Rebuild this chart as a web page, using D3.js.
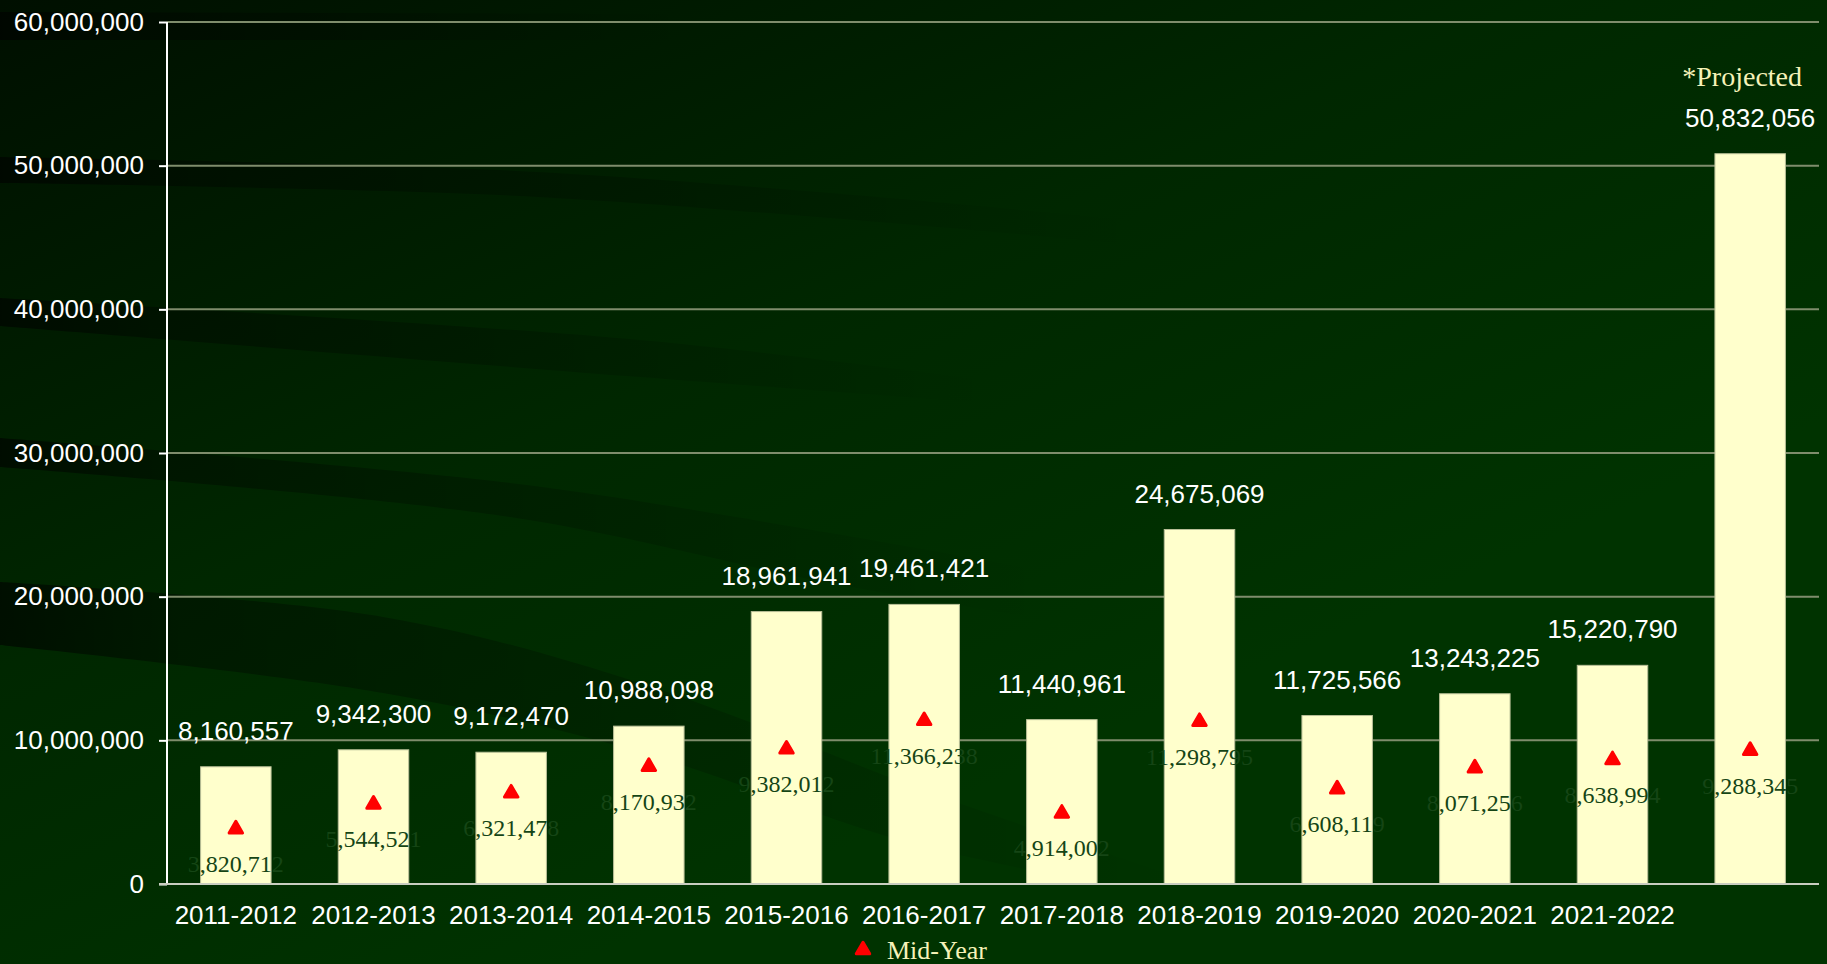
<!DOCTYPE html>
<html>
<head>
<meta charset="utf-8">
<script src="https://cdn.jsdelivr.net/npm/d3@7"></script>
<style>
  html, body { margin: 0; padding: 0; background: #002a00; overflow: hidden; }
  svg { display: block; }
</style>
</head>
<body>
<div id="chart"></div>
<script>
// chart data
const periods = ['2011-2012', '2012-2013', '2013-2014', '2014-2015', '2015-2016', '2016-2017',
                 '2017-2018', '2018-2019', '2019-2020', '2020-2021', '2021-2022', '2022-2023'];
const periodLabels = ['2011-2012', '2012-2013', '2013-2014', '2014-2015', '2015-2016', '2016-2017',
                      '2017-2018', '2018-2019', '2019-2020', '2020-2021', '2021-2022', ''];
const totalValues = [8160557, 9342300, 9172470, 10988098, 18961941, 19461421,
                     11440961, 24675069, 11725566, 13243225, 15220790, 50832056];
const midYearValues = [3820712, 5544521, 6321478, 8170932, 9382012, 11366238,
                       4914002, 11298795, 6608119, 8071256, 8638994, 9288345];
const yTicks = [0, 10000000, 20000000, 30000000, 40000000, 50000000, 60000000];

const width = 1827, height = 964;
const margin = {top: 22, right: 8, bottom: 80, left: 167};
const innerW = width - margin.left - margin.right;
const innerH = height - margin.top - margin.bottom;

const svg = d3.select('#chart').append('svg')
    .attr('width', width)
    .attr('height', height);

const defs = svg.append('defs');

// background gradient, dark in the top left
const bg = defs.append('linearGradient')
    .attr('id', 'bg')
    .attr('x1', '0').attr('y1', '0').attr('x2', '0.62').attr('y2', '0.75');
bg.append('stop').attr('offset', '0').attr('stop-color', '#000f00');
bg.append('stop').attr('offset', '0.55').attr('stop-color', '#002700');
bg.append('stop').attr('offset', '1').attr('stop-color', '#003300');

svg.append('rect')
    .attr('width', width).attr('height', height)
    .attr('fill', 'url(#bg)');

// dark swooshes from the template background
const fade = defs.append('linearGradient')
    .attr('id', 'fade')
    .attr('x1', '0').attr('y1', '0').attr('x2', '1').attr('y2', '0');
fade.append('stop').attr('offset', '0').attr('stop-color', '#000').attr('stop-opacity', 1);
fade.append('stop').attr('offset', '0.15').attr('stop-color', '#000').attr('stop-opacity', 0.6);
fade.append('stop').attr('offset', '1').attr('stop-color', '#000').attr('stop-opacity', 0);

const swooshes = [
    {top: [[0, 12], [700, 14]], bottom: [[700, 40], [0, 40]]},
    {top: [[0, 157], [500, 170], [830, 193], [1150, 222]], bottom: [[1150, 246], [830, 218], [500, 195], [0, 183]]},
    {top: [[0, 298], [640, 340], [1000, 382]], bottom: [[1000, 404], [640, 377], [0, 326]]},
    {top: [[0, 438], [510, 483], [830, 533], [1050, 572]], bottom: [[1050, 620], [830, 583], [510, 517], [0, 467]]},
    {top: [[0, 582], [383, 617], [640, 683], [950, 800], [1200, 884]], bottom: [[1100, 884], [900, 840], [640, 752], [383, 693], [0, 645]]}
];
const curve = d3.line().curve(d3.curveCatmullRom);
svg.append('g').selectAll('path')
    .data(swooshes)
    .join('path')
    .attr('d', d => {
        const a = curve(d.top);
        const b = curve(d.bottom).replace('M', 'L');
        return a + b + 'Z';
    })
    .attr('fill', 'url(#fade)')
    .attr('opacity', 0.6);

const chart = svg.append('g')
    .attr('transform', `translate(${margin.left},${margin.top})`);

const x = d3.scaleBand()
    .domain(periods)
    .range([0, innerW])
    .paddingInner(0.488)
    .paddingOuter(0.244);

const y = d3.scaleLinear()
    .domain([0, 60000000])
    .range([innerH, 0]);

// gridlines
chart.append('g')
    .selectAll('line')
    .data(yTicks.filter(t => t > 0))
    .join('line')
    .attr('x1', 0).attr('x2', innerW)
    .attr('y1', d => y(d)).attr('y2', d => y(d))
    .attr('stroke', '#7f8d6c')
    .attr('stroke-width', 2);

// bars
chart.append('g')
    .selectAll('rect')
    .data(periods)
    .join('rect')
    .attr('x', d => x(d))
    .attr('y', (d, i) => y(totalValues[i]))
    .attr('width', x.bandwidth())
    .attr('height', (d, i) => innerH - y(totalValues[i]))
    .attr('fill', '#ffffcc')
    .attr('stroke', '#b9bf98')
    .attr('stroke-width', 1);

// axes
const yAxis = d3.axisLeft(y)
    .tickValues(yTicks)
    .tickFormat(d3.format(','))
    .tickSize(8)
    .tickPadding(15);
const yAxisG = chart.append('g').call(yAxis);
yAxisG.select('.domain').attr('stroke', '#ffffff').attr('stroke-width', 2)
    .attr('d', `M0,0V${innerH}`);
yAxisG.selectAll('.tick line').attr('stroke', '#ffffff').attr('stroke-width', 2);
yAxisG.selectAll('.tick text')
    .attr('fill', '#ffffff')
    .style('font-family', 'Arial, "Liberation Sans", sans-serif')
    .style('font-size', '26px');

const xAxis = d3.axisBottom(x)
    .tickFormat((d, i) => periodLabels[i])
    .tickSize(0)
    .tickPadding(22);
const xAxisG = chart.append('g')
    .attr('transform', `translate(0,${innerH})`)
    .call(xAxis);
xAxisG.select('.domain').attr('stroke', '#c9cdc0').attr('stroke-width', 2)
    .attr('d', `M-8,0H${innerW}`);
xAxisG.selectAll('.tick text')
    .attr('fill', '#ffffff')
    .style('font-family', 'Arial, "Liberation Sans", sans-serif')
    .style('font-size', '26px');

// total labels above bars
chart.append('g')
    .selectAll('text')
    .data(periods)
    .join('text')
    .attr('x', d => x(d) + x.bandwidth() / 2)
    .attr('y', (d, i) => y(totalValues[i]) - 27)
    .attr('text-anchor', 'middle')
    .attr('fill', '#ffffff')
    .style('font-family', 'Arial, "Liberation Sans", sans-serif')
    .style('font-size', '26px')
    .text((d, i) => d3.format(',')(totalValues[i]));

// projected note over the last bar
const lastP = periods[periods.length - 1];
chart.append('text')
    .attr('x', x(lastP) + x.bandwidth() / 2 - 8)
    .attr('y', y(totalValues[totalValues.length - 1]) - 68)
    .attr('text-anchor', 'middle')
    .attr('fill', '#f6f2b8')
    .style('font-family', '"Times New Roman", "Liberation Serif", serif')
    .style('font-size', '28px')
    .text('*Projected');

// mid-year markers
const tri = d3.symbol().type(d3.symbolTriangle).size(78);
chart.append('g')
    .selectAll('path')
    .data(periods)
    .join('path')
    .attr('d', tri)
    .attr('transform', (d, i) => `translate(${x(d) + x.bandwidth() / 2},${y(midYearValues[i])})`)
    .attr('fill', '#ff0000')
    .attr('stroke', '#ff0000')
    .attr('stroke-width', 3)
    .attr('stroke-linejoin', 'round');

chart.append('g')
    .selectAll('text')
    .data(periods)
    .join('text')
    .attr('x', d => x(d) + x.bandwidth() / 2)
    .attr('y', (d, i) => y(midYearValues[i]) + 43)
    .attr('text-anchor', 'middle')
    .attr('fill', '#154515')
    .style('font-family', '"Times New Roman", "Liberation Serif", serif')
    .style('font-size', '24px')
    .text((d, i) => d3.format(',')(midYearValues[i]));

// legend
const legend = svg.append('g')
    .attr('transform', 'translate(863,950)');
legend.append('path')
    .attr('d', tri)
    .attr('fill', '#ff0000')
    .attr('stroke', '#ff0000')
    .attr('stroke-width', 3)
    .attr('stroke-linejoin', 'round');
legend.append('text')
    .attr('x', 24)
    .attr('y', 9)
    .attr('fill', '#f6f2b8')
    .style('font-family', '"Times New Roman", "Liberation Serif", serif')
    .style('font-size', '26px')
    .text('Mid-Year');
</script>
</body>
</html>
